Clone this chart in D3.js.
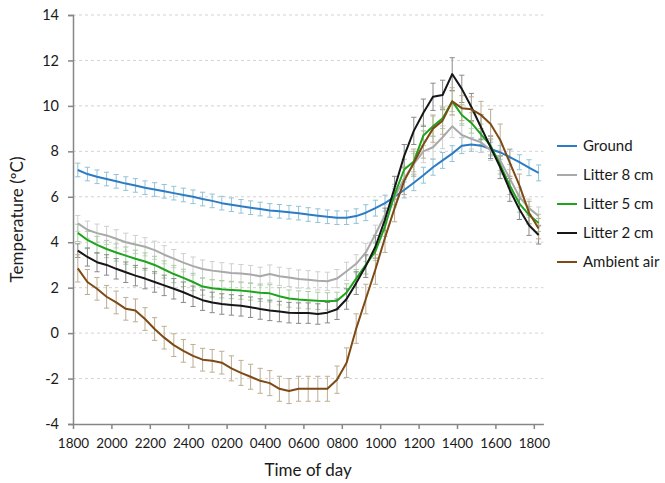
<!DOCTYPE html>
<html>
<head>
<meta charset="utf-8">
<script src="https://cdn.jsdelivr.net/npm/d3@7"></script>
<style>
    body { margin: 0; background: #fff; }
    svg { display: block; font-family: Lato, "Open Sans", sans-serif; }
</style>
</head>
<body>
<div id="chart"></div>
<script>
// ------------------------------------------------- Data -------------------------------------------------
// 49 half-hourly readings, 1800 to 1800 next day
const timeLabels = ["1800", "2000", "2200", "2400", "0200", "0400", "0600", "0800", "1000", "1200", "1400", "1600", "1800"];
const yTicks = [-4, -2, 0, 2, 4, 6, 8, 10, 12, 14];
const seriesNames = ["Ground", "Litter 8 cm", "Litter 5 cm", "Litter 2 cm", "Ambient air"];

const ground = [7.18, 7.0, 6.88, 6.78, 6.68, 6.58, 6.5, 6.4, 6.32, 6.24,
    6.16, 6.08, 6.0, 5.9, 5.82, 5.72, 5.65, 5.58, 5.52, 5.46,
    5.4, 5.36, 5.32, 5.28, 5.22, 5.17, 5.12, 5.08, 5.08, 5.15,
    5.3, 5.5, 5.72, 6.0, 6.3, 6.62, 6.95, 7.3, 7.6, 7.9,
    8.25, 8.3, 8.25, 8.1, 7.95, 7.75, 7.52, 7.28, 7.05];
const litter8 = [4.83, 4.55, 4.4, 4.3, 4.15, 4.0, 3.9, 3.8, 3.65, 3.45,
    3.28, 3.1, 2.95, 2.82, 2.75, 2.7, 2.65, 2.62, 2.58, 2.5,
    2.6, 2.5, 2.45, 2.38, 2.35, 2.3, 2.28, 2.4, 2.72, 3.05,
    3.55, 4.35, 5.2, 6.0, 6.8, 7.45, 8.0, 8.18, 8.62, 9.1,
    8.72, 8.55, 8.4, 8.05, 7.6, 6.8, 6.0, 5.5, 5.15];
const litter5 = [4.41, 4.1, 3.88, 3.7, 3.55, 3.41, 3.27, 3.15, 3.0, 2.8,
    2.6, 2.43, 2.25, 2.05, 1.97, 1.93, 1.9, 1.87, 1.83, 1.78,
    1.75, 1.62, 1.52, 1.48, 1.45, 1.42, 1.4, 1.42, 1.79, 2.4,
    3.0, 3.6, 4.7, 6.1, 7.2, 7.55, 8.7, 9.1, 9.45, 10.2,
    9.6, 9.25, 8.75, 8.25, 7.4, 6.5, 5.7, 5.2, 4.85];
const litter2 = [3.63, 3.35, 3.12, 3.0, 2.83, 2.68, 2.53, 2.4, 2.25, 2.1,
    1.95, 1.8, 1.62, 1.45, 1.35, 1.28, 1.24, 1.2, 1.14, 1.06,
    1.0, 0.95, 0.9, 0.88, 0.88, 0.84, 0.9, 1.05, 1.5, 2.2,
    2.95, 3.8, 5.0, 6.4, 7.8, 8.9, 9.7, 10.4, 10.48, 11.4,
    10.75, 9.95, 9.06, 8.18, 7.3, 6.3, 5.45, 4.75, 4.32];
const ambient = [2.85, 2.25, 1.95, 1.6, 1.35, 1.07, 1.0, 0.62, 0.18, -0.2,
    -0.53, -0.78, -1.0, -1.17, -1.22, -1.3, -1.55, -1.75, -1.92, -2.1,
    -2.2, -2.45, -2.55, -2.45, -2.45, -2.45, -2.45, -2.05, -1.3, 0.2,
    1.5, 2.8, 4.2, 5.5, 6.7, 7.5, 8.3, 9.0, 9.35, 10.2,
    9.9, 9.85, 9.6, 9.2, 8.5, 7.5, 6.5, 5.3, 4.6];

// error bar half-lengths (°C)
const groundErr = [0.3, 0.3, 0.3, 0.3, 0.3, 0.3, 0.3, 0.3, 0.3, 0.3,
    0.3, 0.3, 0.3, 0.3, 0.3, 0.3, 0.3, 0.3, 0.3, 0.3,
    0.3, 0.3, 0.3, 0.3, 0.3, 0.3, 0.3, 0.3, 0.3, 0.32,
    0.35, 0.35, 0.35, 0.35, 0.35, 0.35, 0.35, 0.35, 0.35, 0.35,
    0.35, 0.3, 0.3, 0.3, 0.3, 0.32, 0.33, 0.35, 0.35];
const litter8Err = [0.35, 0.38, 0.4, 0.4, 0.4, 0.4, 0.4, 0.4, 0.4, 0.4,
    0.4, 0.4, 0.4, 0.4, 0.4, 0.4, 0.4, 0.4, 0.4, 0.4,
    0.4, 0.4, 0.4, 0.4, 0.4, 0.4, 0.4, 0.4, 0.4, 0.4,
    0.4, 0.4, 0.45, 0.45, 0.45, 0.45, 0.5, 0.5, 0.5, 0.5,
    0.5, 0.45, 0.45, 0.45, 0.45, 0.4, 0.4, 0.4, 0.4];
const litter5Err = [0.38, 0.38, 0.38, 0.38, 0.38, 0.38, 0.38, 0.38, 0.38, 0.38,
    0.38, 0.38, 0.38, 0.38, 0.38, 0.38, 0.38, 0.38, 0.38, 0.38,
    0.38, 0.38, 0.38, 0.38, 0.38, 0.38, 0.38, 0.38, 0.38, 0.4,
    0.4, 0.4, 0.45, 0.45, 0.45, 0.45, 0.45, 0.45, 0.45, 0.45,
    0.45, 0.45, 0.45, 0.4, 0.4, 0.4, 0.38, 0.38, 0.38];
const litter2Err = [0.3, 0.4, 0.42, 0.45, 0.45, 0.45, 0.45, 0.45, 0.45, 0.45,
    0.45, 0.45, 0.45, 0.45, 0.45, 0.45, 0.45, 0.45, 0.45, 0.45,
    0.45, 0.45, 0.45, 0.45, 0.45, 0.45, 0.45, 0.45, 0.45, 0.5,
    0.5, 0.5, 0.5, 0.5, 0.5, 0.6, 0.6, 0.6, 0.65, 0.72,
    0.6, 0.6, 0.55, 0.5, 0.5, 0.5, 0.45, 0.45, 0.4];
const ambientErr = [0.6, 0.55, 0.5, 0.5, 0.5, 0.5, 0.5, 0.5, 0.5, 0.5,
    0.5, 0.5, 0.5, 0.5, 0.5, 0.5, 0.55, 0.55, 0.55, 0.55,
    0.55, 0.55, 0.55, 0.55, 0.55, 0.55, 0.55, 0.6, 0.65, 0.65,
    0.65, 0.65, 0.65, 0.6, 0.6, 0.6, 0.6, 0.6, 0.6, 0.6,
    0.55, 0.55, 0.6, 0.65, 0.7, 0.6, 0.5, 0.5, 0.45];

// ------------------------------------------------- Series styling -------------------------------------------------
const series = [
    { name: seriesNames[0], values: ground, err: groundErr, color: "#2b7cc4", errColor: "#93c3d6" },
    { name: seriesNames[1], values: litter8, err: litter8Err, color: "#a9a9a9", errColor: "#cfcfcf" },
    { name: seriesNames[2], values: litter5, err: litter5Err, color: "#1fa31f", errColor: "#a7cf9f" },
    { name: seriesNames[3], values: litter2, err: litter2Err, color: "#161616", errColor: "#8a8a8a" },
    { name: seriesNames[4], values: ambient, err: ambientErr, color: "#7d4a16", errColor: "#bdae92" }
];

// ------------------------------------------------- Layout -------------------------------------------------
const width = 665, height = 483;
const plot = { left: 73, right: 543.4, top: 15, bottom: 424 };
const nCats = ground.length; // 49 category slots

const svg = d3.select("#chart").append("svg")
    .attr("width", width)
    .attr("height", height);

const x = d3.scaleLinear().domain([0, nCats]).range([plot.left, plot.right]);
const y = d3.scaleLinear().domain([-4, 14]).range([plot.bottom, plot.top]);
const px = i => x(i + 0.5); // points sit in the middle of each category slot

// ------------------------------------------------- Gridlines -------------------------------------------------
svg.append("g")
    .selectAll("line")
    .data(yTicks.filter(v => v > -4))
    .join("line")
    .attr("x1", plot.left).attr("x2", plot.right)
    .attr("y1", d => y(d)).attr("y2", d => y(d))
    .attr("stroke", "#d3d3d3")
    .attr("stroke-width", 1)
    .attr("stroke-dasharray", "3,3");

// ------------------------------------------------- Axes -------------------------------------------------
const axisColor = "#868686";

const yAxis = svg.append("g")
    .attr("transform", `translate(${plot.left},0)`)
    .call(d3.axisLeft(y).tickValues(yTicks).tickFormat(d => String(d)) // plain hyphen minus like the original
        .tickSize(5).tickPadding(9));
yAxis.select(".domain").attr("stroke", axisColor).attr("stroke-width", 1.5);
yAxis.selectAll(".tick line").attr("stroke", axisColor).attr("stroke-width", 1.5);
yAxis.selectAll(".tick text")
    .attr("fill", "#1a1a1a")
    .style("font-size", "14.5px")
    .style("font-family", "Lato, sans-serif");

const xAxis = svg.append("g")
    .attr("transform", `translate(0,${plot.bottom})`)
    .call(d3.axisBottom(x)
        .tickValues(timeLabels.map((d, k) => k * 4))
        .tickFormat((d, k) => timeLabels[k])
        .tickSize(5).tickSizeOuter(0).tickPadding(9));
xAxis.select(".domain").attr("stroke", axisColor).attr("stroke-width", 1.5);
xAxis.selectAll(".tick line").attr("stroke", axisColor).attr("stroke-width", 1.5);
xAxis.selectAll(".tick text")
    .attr("fill", "#1a1a1a")
    .style("font-size", "13.5px")
    .style("font-family", "Lato, sans-serif");

// Axis titles
svg.append("text")
    .attr("x", (plot.left + plot.right) / 2)
    .attr("y", 476)
    .attr("text-anchor", "middle")
    .style("font-size", "17px")
    .attr("fill", "#1a1a1a")
    .text("Time of day");

svg.append("text")
    .attr("transform", `translate(23,${(plot.top + plot.bottom) / 2}) rotate(-90)`)
    .attr("text-anchor", "middle")
    .style("font-size", "17px")
    .attr("fill", "#1a1a1a")
    .text("Temperature (ºC)");

// ------------------------------------------------- Error bars -------------------------------------------------
const capW = 2.6;
series.forEach(s => {
    const g = svg.append("g").attr("stroke", s.errColor).attr("stroke-width", 1);
    const pts = s.values.map((v, i) => ({ i, lo: v - s.err[i], hi: v + s.err[i] }));
    g.selectAll("line.bar").data(pts).join("line")
        .attr("class", "bar")
        .attr("x1", d => px(d.i)).attr("x2", d => px(d.i))
        .attr("y1", d => y(d.lo)).attr("y2", d => y(d.hi));
    g.selectAll("line.capHi").data(pts).join("line")
        .attr("class", "capHi")
        .attr("x1", d => px(d.i) - capW).attr("x2", d => px(d.i) + capW)
        .attr("y1", d => y(d.hi)).attr("y2", d => y(d.hi));
    g.selectAll("line.capLo").data(pts).join("line")
        .attr("class", "capLo")
        .attr("x1", d => px(d.i) - capW).attr("x2", d => px(d.i) + capW)
        .attr("y1", d => y(d.lo)).attr("y2", d => y(d.lo));
});

// ------------------------------------------------- Lines -------------------------------------------------
const line = d3.line()
    .x((d, i) => px(i))
    .y(d => y(d));

series.forEach(s => {
    svg.append("path")
        .datum(s.values)
        .attr("fill", "none")
        .attr("stroke", s.color)
        .attr("stroke-width", 2)
        .attr("stroke-linejoin", "round")
        .attr("d", line);
});

// ------------------------------------------------- Legend -------------------------------------------------
const legend = svg.append("g").attr("transform", "translate(557,146)");
const item = legend.selectAll("g").data(series).join("g")
    .attr("transform", (d, i) => `translate(0,${i * 29})`);
item.append("line")
    .attr("x1", 0).attr("x2", 20)
    .attr("stroke", d => d.color)
    .attr("stroke-width", 2);
item.append("text")
    .attr("x", 26)
    .attr("dy", "0.35em")
    .style("font-size", "15px")
    .attr("fill", "#1a1a1a")
    .text(d => d.name);
</script>
</body>
</html>
